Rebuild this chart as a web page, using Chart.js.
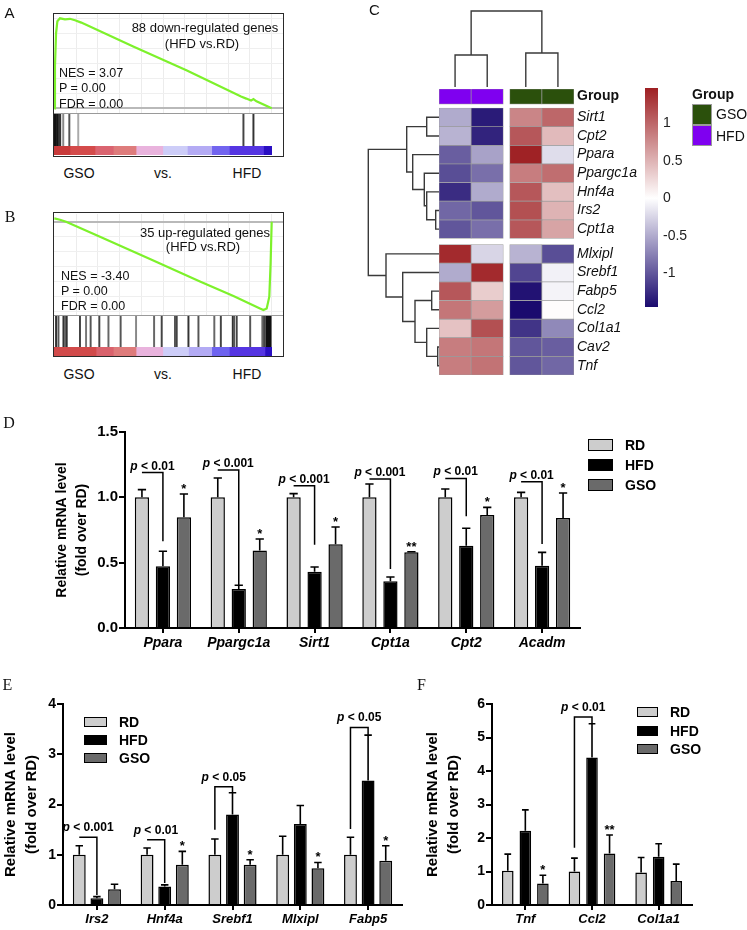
<!DOCTYPE html>
<html>
<head>
<meta charset="utf-8">
<title>GSEA, heatmap and qPCR panels</title>
<script src="https://cdn.jsdelivr.net/npm/chart.js@4.4.1/dist/chart.umd.min.js"></script>
<style>
  html, body { margin: 0; padding: 0; background: #fff; }
  #fig { position: relative; width: 747px; height: 930px; overflow: hidden; background: #fff;
         font-family: 'Liberation Sans', Arial, sans-serif; color: #111; }
  #fig canvas, #fig .t, #fig .box, #fig .sw { position: absolute; }
  .t { white-space: nowrap; line-height: 1; }
  .sw { box-sizing: border-box; }
</style>
</head>
<body>
<div id="fig"></div>
<script>
(function () {
  'use strict';

  // ---------- A : GSEA, 88 down-regulated genes ----------
  var gseaARank = [0, 0.3, 0.8, 1.4, 2.6, 4.9, 7.2, 9.5, 12.4, 36.3, 61.0, 85.9, 88.3, 90.5, 91.6, 93.0, 100];
  var gseaAES = [0, 0.42, 0.75, 0.87, 0.90, 0.89, 0.895, 0.88, 0.857, 0.617, 0.377, 0.117, 0.097, 0.077, 0.093, 0.07, 0];
  var gseaAHits = [0.3, 0.8, 1.3, 1.8, 2.3, 2.7, 4.1, 6.9, 11.0, 87.0, 91.6];
  var gseaAHitTone = ['#111', '#111', '#222', '#111', '#444', '#333', '#888', '#555', '#aaa', '#444', '#333'];
  var gseaACbEdges = [0, 7.2, 18.7, 27.2, 37.6, 49.9, 61.2, 72.4, 80.5, 96.2, 100];
  var gseaACbColors = ['#c83a3a', '#d44b4b', '#da6470', '#de7c7c', '#e9b3dd', '#cdcdf8', '#b4abf4', '#7264ef', '#5535e2', '#2a0fc2'];

  // ---------- B : GSEA, 35 up-regulated genes ----------
  var gseaBRank = [0, 2.6, 5.4, 21.0, 44.0, 67.0, 82.4, 94.6, 96.2, 97.7, 98.9, 99.5, 100];
  var gseaBES = [0.033, 0.02, 0, -0.15, -0.373, -0.597, -0.743, -0.867, -0.883, -0.867, -0.75, -0.417, 0];
  var gseaBHits = [0.8, 1.9, 4.2, 4.9, 5.7, 11.8, 14.6, 16.7, 20.7, 24.9, 30.5, 37.6, 45.9, 49.4, 55.5, 56.3,
                   61.7, 66.3, 73.6, 76.6, 82.1, 82.7, 83.9, 90.1, 95.7, 96.5, 97.5, 98.0, 98.5, 99.0, 99.5];
  var gseaBHitTone = ['#333', '#555', '#333', '#666', '#333', '#444', '#777', '#555', '#444', '#666', '#555', '#888',
                      '#666', '#444', '#555', '#444', '#333', '#555', '#666', '#444', '#333', '#555', '#444', '#555',
                      '#666', '#444', '#111', '#111', '#111', '#111', '#111'];
  var gseaBCbEdges = [0, 19.2, 27.2, 37.6, 49.9, 61.7, 72.4, 80.5, 96.9, 100];
  var gseaBCbColors = ['#d14a4a', '#d9626c', '#de7b7b', '#e9b3dd', '#cdcdf8', '#b3abf4', '#6e63ef', '#5535e2', '#2a0fc2'];

  // ---------- C : heatmap ----------
  var heatGenes = ['Sirt1', 'Cpt2', 'Ppara', 'Ppargc1a', 'Hnf4a', 'Irs2', 'Cpt1a',
                   'Mlxipl', 'Srebf1', 'Fabp5', 'Ccl2', 'Col1a1', 'Cav2', 'Tnf'];
  var heatSamples = ['HFD', 'HFD', 'GSO', 'GSO'];
  var heatZ = [
    [-0.5, -1.35, 0.8, 1.0],
    [-0.45, -1.3, 1.1, 0.45],
    [-0.95, -0.55, 1.45, -0.2],
    [-1.05, -0.85, 0.85, 0.95],
    [-1.25, -0.5, 1.1, 0.42],
    [-0.9, -1.0, 1.15, 0.5],
    [-1.0, -0.85, 1.1, 0.6],
    [1.4, -0.25, -0.45, -1.05],
    [-0.5, 1.4, -1.1, -0.08],
    [1.1, 0.33, -1.4, -0.07],
    [0.9, 0.65, -1.45, 0.02],
    [0.4, 1.15, -1.2, -0.7],
    [0.85, 0.9, -1.0, -0.95],
    [0.85, 0.92, -1.0, -0.9]
  ];
  // hclust-style linkage: negative = leaf (1-based), positive = earlier merge
  var rowMerge = [[-13, -14], [-6, -7], [-10, -11], [-1, -2], [-5, 2], [-12, 1], [-4, 5],
                  [3, 6], [-3, 7], [4, 9], [-9, 8], [-8, 11], [10, 12]];
  var rowHeight = [0.13, 0.33, 0.73, 1.23, 1.23, 1.23, 1.47, 2.4, 2.63, 3.23, 3.63, 5.3, 7.07];
  var colMerge = [[-1, -2], [-3, -4], [1, 2]];
  var colHeight = [3.2, 3.4, 7.6];
  var groupNames = ['GSO', 'HFD'];
  var groupColors = ['#2b500c', '#7f00f0'];
  var zTicks = [-1, -0.5, 0, 0.5, 1];
  var zMin = -1.45;
  var zMax = 1.47;

  // ---------- D / E / F : qPCR ----------
  var seriesNames = ['RD', 'HFD', 'GSO'];
  var seriesColors = ['#cdcdcd', '#000000', '#6a6a6a'];

  var dGenes = ['Ppara', 'Ppargc1a', 'Sirt1', 'Cpt1a', 'Cpt2', 'Acadm'];
  var dRD = [1.0, 1.0, 1.0, 1.0, 1.0, 1.0];
  var dRDSem = [0.059, 0.148, 0.028, 0.102, 0.064, 0.038];
  var dHFD = [0.472, 0.298, 0.431, 0.357, 0.63, 0.477];
  var dHFDSem = [0.115, 0.029, 0.036, 0.033, 0.133, 0.102];
  var dGSO = [0.847, 0.594, 0.64, 0.579, 0.865, 0.842];
  var dGSOSem = [0.179, 0.087, 0.133, 0.005, 0.058, 0.191];
  var dStars = ['*', '*', '*', '**', '*', '*'];
  var dPText = ['p < 0.01', 'p < 0.001', 'p < 0.001', 'p < 0.001', 'p < 0.01', 'p < 0.01'];
  var dPTop = [1.19, 1.209, 1.089, 1.14, 1.145, 1.12];
  var dPLeft = [null, null, null, null, null, null];
  var dPRight = [0.663, 0.324, 0.638, 0.452, 0.855, 0.643];

  var eGenes = ['Irs2', 'Hnf4a', 'Srebf1', 'Mlxipl', 'Fabp5'];
  var eRD = [1.0, 1.0, 1.0, 1.0, 1.0];
  var eRDSem = [0.18, 0.133, 0.313, 0.367, 0.347];
  var eHFD = [0.133, 0.367, 1.8, 1.613, 2.48];
  var eHFDSem = [0.034, 0.033, 0.433, 0.367, 0.9];
  var eGSO = [0.313, 0.8, 0.8, 0.733, 0.88];
  var eGSOSem = [0.1, 0.267, 0.1, 0.114, 0.3];
  var eStars = ['', '*', '*', '*', '*'];
  var ePText = ['p < 0.001', 'p < 0.01', 'p < 0.05', '', 'p < 0.05'];
  var ePTop = [1.347, 1.3, 2.353, null, 3.533];
  var ePLeft = [null, null, 1.5, null, 1.513];
  var ePRight = [0.2, 0.44, 2.233, null, 3.38];

  var fGenes = ['Tnf', 'Ccl2', 'Col1a1'];
  var fRD = [1.02, 1.0, 0.97];
  var fRDSem = [0.5, 0.4, 0.45];
  var fHFD = [2.22, 4.4, 1.44];
  var fHFDSem = [0.62, 1.01, 0.39];
  var fGSO = [0.64, 1.54, 0.72];
  var fGSOSem = [0.25, 0.55, 0.5];
  var fStars = ['*', '**', ''];
  var fPText = ['', 'p < 0.01', ''];
  var fPTop = [null, 5.61, null];
  var fPLeft = [null, 1.71, null];
  var fPRight = [null, 5.41, null];

  // ---------- setup ----------
  var SANS = "'Liberation Sans', Arial, sans-serif";
  var SERIF = "'Liberation Serif', 'Times New Roman', serif";
  var gseaGridRanks = [10, 20, 30, 40, 50, 60, 70, 80, 90, 100];
  var fig = document.getElementById('fig');

  Chart.defaults.animation = false;
  Chart.defaults.responsive = false;
  Chart.defaults.maintainAspectRatio = false;
  Chart.defaults.devicePixelRatio = 1;
  Chart.defaults.events = [];
  Chart.defaults.font.family = SANS;
  Chart.defaults.color = '#000';
  Chart.defaults.plugins.legend.display = false;
  Chart.defaults.plugins.tooltip.enabled = false;

  function canvasAt(left, top, w, h) {
    var c = document.createElement('canvas');
    c.width = w;
    c.height = h;
    c.style.left = left + 'px';
    c.style.top = top + 'px';
    c.style.width = w + 'px';
    c.style.height = h + 'px';
    fig.appendChild(c);
    return c;
  }

  function text(str, x, y, style, centered) {
    var d = document.createElement('div');
    d.className = 't';
    d.textContent = str;
    d.style.cssText = 'left:' + x + 'px;top:' + y + 'px;transform:' +
      (centered ? 'translate(-50%,-50%)' : 'translateY(-50%)') + ';' + (style || '');
    fig.appendChild(d);
  }

  function box(x, y, w, h, style) {
    var d = document.createElement('div');
    d.className = 'sw';
    d.style.cssText = 'left:' + x + 'px;top:' + y + 'px;width:' + w + 'px;height:' + h + 'px;' + style;
    fig.appendChild(d);
  }

  function ticksFrom(list) {
    return function (s) {
      s.ticks = list.map(function (v) { return { value: v }; });
    };
  }

  // ---------- A / B ----------
  function gsea(o) {
    box(o.frame[0], o.frame[1], o.frame[2], o.frame[3], 'border:1.5px solid #2a2a2a;');

    new Chart(canvasAt(o.x, o.esTop, o.w, o.esH), {
      type: 'line',
      data: {
        datasets: [{
          data: o.rank.map(function (r, i) { return { x: r, y: o.es[i] }; }),
          borderColor: '#7df12b',
          borderWidth: 2.2,
          pointRadius: 0,
          tension: 0,
          fill: false
        }]
      },
      options: {
        scales: {
          x: {
            type: 'linear', min: o.xMin, max: o.xMax,
            ticks: { display: false }, border: { display: false },
            grid: { drawTicks: false, color: '#ececec' },
            afterBuildTicks: ticksFrom(gseaGridRanks)
          },
          y: {
            type: 'linear', min: o.esMin, max: o.esMax,
            ticks: { display: false }, border: { display: false },
            grid: {
              drawTicks: false,
              color: function (c) { return c.tick && c.tick.value === 0 ? '#b9b9b9' : '#efefef'; },
              lineWidth: function (c) { return c.tick && c.tick.value === 0 ? 2 : 1; }
            },
            afterBuildTicks: ticksFrom(o.esGrid)
          }
        }
      }
    });

    box(o.x, o.hitsTop, o.w, 1, 'background:#9a9a9a;');

    new Chart(canvasAt(o.x, o.hitsTop + 1, o.w, o.hitsH - 1), {
      type: 'bar',
      data: {
        datasets: [{
          data: o.hits.map(function (r) { return { x: r, y: 1 }; }),
          backgroundColor: o.hitTone,
          barThickness: 1.3,
          borderWidth: 0
        }]
      },
      options: {
        scales: {
          x: { type: 'linear', min: o.xMin, max: o.xMax, offset: false, display: false },
          y: { type: 'linear', min: 0, max: 1, display: false }
        }
      }
    });

    new Chart(canvasAt(o.x, o.cbTop, o.w, o.cbH), {
      type: 'bar',
      data: {
        labels: ['rank'],
        datasets: o.cbColors.map(function (c, i) {
          return {
            data: [[o.cbEdges[i], o.cbEdges[i + 1]]],
            backgroundColor: c,
            borderWidth: 0,
            grouped: false,
            categoryPercentage: 1,
            barPercentage: 1
          };
        })
      },
      options: {
        indexAxis: 'y',
        scales: {
          x: { type: 'linear', min: o.xMin, max: o.xMax, display: false },
          y: { display: false }
        }
      }
    });
  }

  gsea({
    frame: [53, 13, 231, 144], x: 54, w: 229,
    esTop: 14, esH: 99, hitsTop: 113, hitsH: 33, cbTop: 146, cbH: 9,
    xMin: -0.15, xMax: 105.2, esMin: -0.047, esMax: 0.943,
    esGrid: [0, 0.15, 0.3, 0.45, 0.6, 0.75, 0.9],
    rank: gseaARank, es: gseaAES, hits: gseaAHits, hitTone: gseaAHitTone,
    cbEdges: gseaACbEdges, cbColors: gseaACbColors
  });

  gsea({
    frame: [53, 212, 231, 145], x: 54, w: 229,
    esTop: 214, esH: 101, hitsTop: 315, hitsH: 32, cbTop: 347, cbH: 9,
    xMin: -0.15, xMax: 105.2, esMin: -0.933, esMax: 0.077,
    esGrid: [0, -0.15, -0.3, -0.45, -0.6, -0.75, -0.9],
    rank: gseaBRank, es: gseaBES, hits: gseaBHits, hitTone: gseaBHitTone,
    cbEdges: gseaBCbEdges, cbColors: gseaBCbColors
  });

  var gTxt = 'font-size:13px;color:#111;';
  text('88 down-regulated genes', 205, 27, gTxt, true);
  text('(HFD vs.RD)', 202, 43, gTxt, true);
  text('NES = 3.07', 59, 73, 'font-size:12.5px;');
  text('P = 0.00', 59, 88, 'font-size:12.5px;');
  text('FDR = 0.00', 59, 104, 'font-size:12.5px;');
  text('35 up-regulated genes', 205, 232, gTxt, true);
  text('(HFD vs.RD)', 203, 246, gTxt, true);
  text('NES = -3.40', 61, 276, 'font-size:12.5px;');
  text('P = 0.00', 61, 291, 'font-size:12.5px;');
  text('FDR = 0.00', 61, 306, 'font-size:12.5px;');
  [173, 374].forEach(function (y) {
    text('GSO', 79, y, 'font-size:14px;', true);
    text('vs.', 163, y, 'font-size:14px;', true);
    text('HFD', 247, y, 'font-size:14px;', true);
  });

  // ---------- C ----------
  var ROW_SPLIT = 7;
  function rowTop(i) { return 1.02 + i + (i >= ROW_SPLIT ? 0.33 : 0); }
  function colLeft(j) { return j + (j >= 2 ? 0.2 : 0); }
  var GROUP_H = 0.81;

  function zColor(v) {
    var lo = [26, 10, 110], mid = [255, 255, 255], hi = [158, 31, 34];
    var t = v < 0 ? Math.min(1, v / zMin) : Math.min(1, v / zMax);
    var end = v < 0 ? lo : hi;
    return 'rgb(' + mid.map(function (c, k) { return Math.round(c + (end[k] - c) * t); }).join(',') + ')';
  }

  var heatSets = [{
    data: heatSamples.map(function (s, j) { return { x: colLeft(j) + 0.5, y: [0, GROUP_H] }; }),
    backgroundColor: heatSamples.map(function (s) { return groupColors[groupNames.indexOf(s)]; })
  }];
  heatGenes.forEach(function (g, i) {
    heatSets.push({
      data: heatSamples.map(function (s, j) { return { x: colLeft(j) + 0.5, y: [rowTop(i), rowTop(i) + 1] }; }),
      backgroundColor: heatZ[i].map(zColor)
    });
  });
  var rowLabels = ['Group'].concat(heatGenes);
  var rowCenters = [GROUP_H / 2].concat(heatGenes.map(function (g, i) { return rowTop(i) + 0.5; }));

  new Chart(canvasAt(437, 87, 207, 290), {
    type: 'bar',
    data: { datasets: heatSets },
    options: {
      layout: { padding: { left: 2, top: 2, bottom: 2, right: 0 } },
      datasets: {
        bar: {
          grouped: false, categoryPercentage: 1, barPercentage: 1,
          borderSkipped: false, borderWidth: 0.7, borderColor: '#9a9a9a'
        }
      },
      scales: {
        x: { type: 'linear', min: 0, max: 4.2, offset: false, display: false, afterBuildTicks: ticksFrom([]) },
        y: {
          type: 'linear', min: 0, max: 15.35, reverse: true, position: 'right',
          afterBuildTicks: ticksFrom(rowCenters),
          afterFit: function (s) { s.width = 70; s.paddingTop = 0; s.paddingBottom = 0; },
          grid: { display: false, drawTicks: false }, border: { display: false },
          ticks: {
            autoSkip: false, padding: 3, color: '#111',
            font: function (c) {
              return c.index === 0 ? { family: SANS, size: 14, weight: 'bold' } : { family: SANS, size: 14, style: 'italic' };
            },
            callback: function (v, i) { return rowLabels[i]; }
          }
        }
      }
    }
  });

  function dendroSets(merge, height, leafPos, vertical) {
    var pos = [], hgt = [];
    function node(k) { return k < 0 ? { p: leafPos[-k - 1], h: 0 } : { p: pos[k - 1], h: hgt[k - 1] }; }
    return merge.map(function (m, i) {
      var a = node(m[0]), b = node(m[1]), h = height[i];
      pos.push((a.p + b.p) / 2);
      hgt.push(h);
      var path = [[a.h, a.p], [h, a.p], [h, b.p], [b.h, b.p]];
      return {
        data: path.map(function (q) { return vertical ? { x: q[1], y: q[0] } : { x: q[0], y: q[1] }; }),
        showLine: true, pointRadius: 0, borderColor: '#3a3a3a', borderWidth: 1.4, tension: 0
      };
    });
  }

  new Chart(canvasAt(362, 87, 77, 290), {
    type: 'scatter',
    data: { datasets: dendroSets(rowMerge, rowHeight, heatGenes.map(function (g, i) { return rowTop(i) + 0.5; }), false) },
    options: {
      layout: { padding: { top: 2, bottom: 2 } },
      scales: {
        x: { type: 'linear', min: 0, max: 7.7, reverse: true, display: false },
        y: { type: 'linear', min: 0, max: 15.35, reverse: true, display: false }
      }
    }
  });

  new Chart(canvasAt(437, 5, 139, 84), {
    type: 'scatter',
    data: { datasets: dendroSets(colMerge, colHeight, heatSamples.map(function (s, j) { return colLeft(j) + 0.5; }), true) },
    options: {
      layout: { padding: { left: 2, right: 2 } },
      scales: {
        x: { type: 'linear', min: 0, max: 4.2, display: false },
        y: { type: 'linear', min: -0.2, max: 8.2, display: false }
      }
    }
  });

  new Chart(canvasAt(645, 80, 100, 240), {
    type: 'bar',
    data: {
      labels: ['z'],
      datasets: [{
        data: [[zMin, zMax]],
        borderWidth: 0,
        categoryPercentage: 1,
        barPercentage: 1,
        backgroundColor: function (c) {
          var ch = c.chart, ys = ch.scales.y;
          if (!ch.chartArea || !ys) return '#fff';
          var g = ch.ctx.createLinearGradient(0, ys.getPixelForValue(zMin), 0, ys.getPixelForValue(zMax));
          g.addColorStop(0, zColor(zMin));
          g.addColorStop(-zMin / (zMax - zMin), zColor(0));
          g.addColorStop(1, zColor(zMax));
          return g;
        }
      }]
    },
    options: {
      layout: { padding: { top: 8, bottom: 13 } },
      scales: {
        x: { display: false },
        y: {
          type: 'linear', min: zMin, max: zMax, position: 'right',
          afterBuildTicks: ticksFrom(zTicks),
          afterFit: function (s) { s.width = 87; s.paddingTop = 0; s.paddingBottom = 0; },
          grid: { display: false, drawTicks: false }, border: { display: false },
          ticks: { padding: 5, color: '#222', font: { size: 14 }, callback: function (v) { return String(v); } }
        }
      }
    }
  });

  text('Group', 692, 94, 'font-size:14px;font-weight:bold;color:#111;');
  groupNames.forEach(function (g, i) {
    box(692, 104 + i * 21, 20, 21, 'background:' + groupColors[i] + ';border:1px solid #9a9a9a;');
    text(g, 716, 114 + i * 22, 'font-size:14px;color:#111;');
  });

  // ---------- D / E / F ----------
  function drawP(ctx, label, cx, baseline, size) {
    var rest = label.slice(1);
    var fi = 'italic bold ' + size + 'px ' + SANS, fb = 'bold ' + size + 'px ' + SANS;
    ctx.font = fi;
    var w1 = ctx.measureText('p').width;
    ctx.font = fb;
    var w2 = ctx.measureText(rest).width;
    var x0 = cx - (w1 + w2) / 2;
    ctx.textAlign = 'left';
    ctx.textBaseline = 'alphabetic';
    ctx.font = fi;
    ctx.fillText('p', x0, baseline);
    ctx.font = fb;
    ctx.fillText(rest, x0 + w1, baseline);
  }

  function qpcrMarks(o) {
    return {
      id: 'qpcrMarks',
      afterDatasetsDraw: function (chart) {
        var ctx = chart.ctx, ys = chart.scales.y;
        ctx.save();
        ctx.strokeStyle = '#000';
        ctx.fillStyle = '#000';
        ctx.lineWidth = 1.6;
        chart.data.datasets.forEach(function (ds, di) {
          chart.getDatasetMeta(di).data.forEach(function (bar, j) {
            var top = ys.getPixelForValue(ds.data[j] + ds.sem[j]);
            var half = bar.width * 0.29;
            ctx.beginPath();
            ctx.moveTo(bar.x, bar.y);
            ctx.lineTo(bar.x, top);
            ctx.moveTo(bar.x - half, top);
            ctx.lineTo(bar.x + half, top);
            ctx.stroke();
          });
        });
        var gso = chart.data.datasets[2], gMeta = chart.getDatasetMeta(2);
        ctx.font = 'bold 13px ' + SANS;
        ctx.textAlign = 'center';
        ctx.textBaseline = 'alphabetic';
        o.stars.forEach(function (s, j) {
          if (!s) return;
          var top = ys.getPixelForValue(gso.data[j] + gso.sem[j]);
          ctx.fillText(s, gMeta.data[j].x, top - 1);
        });
        var rMeta = chart.getDatasetMeta(0), hMeta = chart.getDatasetMeta(1);
        ctx.lineWidth = 1.5;
        o.pTop.forEach(function (t, j) {
          if (t === null) return;
          var x1 = rMeta.data[j].x, x2 = hMeta.data[j].x, yt = ys.getPixelForValue(t);
          ctx.beginPath();
          ctx.moveTo(x1, o.pLeft[j] === null ? yt : ys.getPixelForValue(o.pLeft[j]));
          ctx.lineTo(x1, yt);
          ctx.lineTo(x2, yt);
          ctx.lineTo(x2, o.pRight[j] === null ? yt : ys.getPixelForValue(o.pRight[j]));
          ctx.stroke();
          drawP(ctx, o.pText[j], (x1 + x2) / 2, yt - o.pGap, 12);
        });
        ctx.restore();
      }
    };
  }

  function qpcr(o) {
    var cv = canvasAt(o.left, o.top, o.w, o.h);
    var vals = [o.rd, o.hfd, o.gso], sems = [o.rdSem, o.hfdSem, o.gsoSem];
    new Chart(cv, {
      type: 'bar',
      data: {
        labels: o.genes,
        datasets: seriesNames.map(function (n, i) {
          return {
            label: n, data: vals[i], sem: sems[i],
            backgroundColor: seriesColors[i], borderColor: '#000', borderWidth: 1.5,
            categoryPercentage: o.catPct, barPercentage: o.barPct
          };
        })
      },
      options: {
        layout: { padding: { top: o.padTop, right: o.padRight, left: 0, bottom: 0 } },
        scales: {
          x: {
            grid: { offset: false, drawOnChartArea: false, drawTicks: true, tickLength: 5, color: '#000', lineWidth: 2 },
            border: { color: '#000', width: 2 },
            ticks: { autoSkip: false, maxRotation: 0, padding: 2, color: '#000',
                     font: { size: o.xFont, weight: 'bold', style: 'italic' } },
            afterFit: function (s) { s.height = o.xAxisH; }
          },
          y: {
            min: 0, max: o.yMax,
            grid: { drawOnChartArea: false, tickLength: 6, color: '#000', lineWidth: 2 },
            border: { color: '#000', width: 2 },
            ticks: { stepSize: o.yStep, padding: 1, color: '#000', font: { size: o.tickFont, weight: 'bold' },
                     callback: function (v) { return v.toFixed(o.yDecimals); } },
            title: {
              display: true, text: ['Relative mRNA level', '(fold over RD)'], color: '#000',
              font: { size: o.titleFont, weight: 'bold', lineHeight: o.titleLH / o.titleFont },
              padding: { top: o.titlePad, bottom: 0 }
            },
            afterFit: function (s) { s.width = o.yAxisW; }
          }
        }
      },
      plugins: [qpcrMarks(o)]
    });
  }

  function qLegend(x, y0, pitch, w, h, labelX) {
    seriesNames.forEach(function (n, i) {
      box(x, y0 + i * pitch, w, h, 'background:' + seriesColors[i] + ';border:1.5px solid #000;');
      text(n, labelX, y0 + i * pitch + h / 2, 'font-size:14px;font-weight:bold;color:#000;');
    });
  }

  qpcr({
    left: 0, top: 380, w: 747, h: 280, padTop: 52, padRight: 167, yAxisW: 125, xAxisH: 32,
    yMax: 1.5, yStep: 0.5, yDecimals: 1, tickFont: 15, xFont: 14, titleFont: 14, titleLH: 20, titlePad: 52,
    catPct: 0.83, barPct: 0.68, pGap: 3,
    genes: dGenes, rd: dRD, rdSem: dRDSem, hfd: dHFD, hfdSem: dHFDSem, gso: dGSO, gsoSem: dGSOSem,
    stars: dStars, pText: dPText, pTop: dPTop, pLeft: dPLeft, pRight: dPRight
  });
  qLegend(588, 439, 20, 25, 12, 625);

  qpcr({
    left: 0, top: 640, w: 410, h: 290, padTop: 64, padRight: 8, yAxisW: 63, xAxisH: 25,
    yMax: 4, yStep: 1, yDecimals: 0, tickFont: 14, xFont: 13, titleFont: 15, titleLH: 21, titlePad: 0,
    catPct: 0.78, barPct: 0.73, pGap: 6,
    genes: eGenes, rd: eRD, rdSem: eRDSem, hfd: eHFD, hfdSem: eHFDSem, gso: eGSO, gsoSem: eGSOSem,
    stars: eStars, pText: ePText, pTop: ePTop, pLeft: ePLeft, pRight: ePRight
  });
  qLegend(84, 717, 18, 23, 10, 119);

  qpcr({
    left: 380, top: 640, w: 367, h: 290, padTop: 64, padRight: 55, yAxisW: 112, xAxisH: 25,
    yMax: 6, yStep: 1, yDecimals: 0, tickFont: 14, xFont: 13, titleFont: 15, titleLH: 21, titlePad: 42,
    catPct: 0.79, barPct: 0.66, pGap: 6,
    genes: fGenes, rd: fRD, rdSem: fRDSem, hfd: fHFD, hfdSem: fHFDSem, gso: fGSO, gsoSem: fGSOSem,
    stars: fStars, pText: fPText, pTop: fPTop, pLeft: fPLeft, pRight: fPRight
  });
  qLegend(637, 707, 18.5, 21, 10, 670);

  // ---------- panel letters ----------
  text('A', 9.5, 12, 'font-size:15px;', true);
  text('C', 374.5, 9, 'font-size:15px;', true);
  text('B', 10, 217, 'font-family:' + SERIF + ';font-size:16px;', true);
  text('D', 9, 423, 'font-family:' + SERIF + ';font-size:16px;', true);
  text('E', 7.5, 685, 'font-family:' + SERIF + ';font-size:16px;', true);
  text('F', 421.5, 685, 'font-family:' + SERIF + ';font-size:16px;', true);
})();
</script>
</body>
</html>
